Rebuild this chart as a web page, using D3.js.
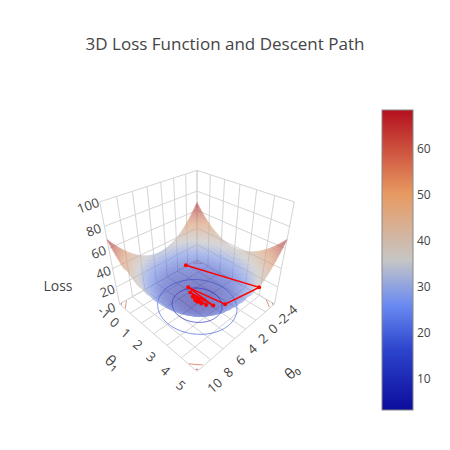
<!DOCTYPE html>
<html><head><meta charset="utf-8">
<script src="https://cdn.jsdelivr.net/npm/d3@7"></script>
<style>body{margin:0;background:#fff}text{font-family:"Open Sans",sans-serif;fill:#444}</style>
</head><body><svg id="c" width="450" height="450"></svg>
<script>
// ---- data ----
const theta0Ticks = [-4,-2,0,2,4,6,8,10];
const theta1Ticks = [-1,0,1,2,3,4,5];
const zTicks = [0,20,40,60,80,100];
const cbTicks = [10,20,30,40,50,60];
const lossMin = 3.3, lossCenter = [3,2], lossCurv = [35,30];
const contourLevels = [10,20,58,65];
const pathT0 = [0.7,0.4,2.0,2.3,2.5,2.6,2.8,2.85,2.95,3.0,3.0,3.0];
const pathT1 = [0.1,5.0,3.6,1.0,3.0,1.3,2.6,1.6,2.3,1.85,2.05,2.0];
const colorStops = [[0,'#0c0c9c'],[0.2,'#2c44cc'],[0.35,'#6a8af2'],[0.5,'#c6c6c6'],[0.72,'#e89a62'],[1,'#b4101e']];
const cmin = 3.3, cmax = 68.5;

function loss(a,b){return lossMin + lossCurv[0]*((a-lossCenter[0])/7)**2 + lossCurv[1]*((b-lossCenter[1])/3)**2;}

const svg = d3.select('#c');
const X = d3.scaleLinear().domain([-4,10]).range([-0.5,0.5]);
const Y = d3.scaleLinear().domain([-1,5]).range([-0.5,0.5]);
const Z = d3.scaleLinear().domain([0,100]).range([-0.5,0.5]);
const col = d3.scaleLinear().domain(colorStops.map(d=>cmin+d[0]*(cmax-cmin))).range(colorStops.map(d=>d[1])).clamp(true);
const surfCol = z=>d3.interpolateRgb(col(z),'#9a9aa6')(0.2);

const E=[1.45,1.45,1.4];
const norm=v=>{const l=Math.hypot(...v);return v.map(x=>x/l)};
const cross=(a,b)=>[a[1]*b[2]-a[2]*b[1],a[2]*b[0]-a[0]*b[2],a[0]*b[1]-a[1]*b[0]];
const dot=(a,b)=>a[0]*b[0]+a[1]*b[1]+a[2]*b[2];
const f=norm(E.map(x=>-x)), r=norm(cross(f,[0,0,1])), u=cross(r,f);
function raw(p){const d=[p[0]-E[0],p[1]-E[1],p[2]-E[2]];const dp=dot(d,f);return [dot(d,r)/dp,dot(d,u)/dp,dp];}
const L0=raw([0.5,-0.5,-0.5]), R0=raw([-0.5,0.5,-0.5]);
const s=155/(R0[0]-L0[0]);
const cx=197-s*(L0[0]+R0[0])/2, cy=304+s*(L0[1]+R0[1])/2;
function P(a,b,z){const q=raw([X(a),Y(b),Z(z)]);return [cx+s*q[0],cy-s*q[1],q[2]];}
const line=d3.line();

svg.append('text').attr('x',225).attr('y',50).attr('text-anchor','middle').style('font-size','17px').text('3D Loss Function and Descent Path');

const g=svg.append('g').attr('stroke','#d4d4d4').attr('fill','none').attr('stroke-width',1);
theta0Ticks.forEach(t=>{g.append('path').attr('d',line([P(t,-1,0),P(t,5,0)]));g.append('path').attr('d',line([P(t,-1,0),P(t,-1,100)]));});
theta1Ticks.forEach(t=>{g.append('path').attr('d',line([P(-4,t,0),P(10,t,0)]));g.append('path').attr('d',line([P(-4,t,0),P(-4,t,100)]));});
zTicks.forEach(z=>{g.append('path').attr('d',line([P(10,-1,z),P(-4,-1,z),P(-4,5,z)]));});

contourLevels.forEach(Lv=>{
  const a=Math.sqrt((Lv-lossMin)/lossCurv[0]), b=Math.sqrt((Lv-lossMin)/lossCurv[1]);
  let seg=[];const segs=[];
  for(let i=0;i<=240;i++){const t=i/240*2*Math.PI;const uu=a*Math.cos(t),vv=b*Math.sin(t);
    if(Math.abs(uu)<=1&&Math.abs(vv)<=1){const p=P(lossCenter[0]+7*uu,lossCenter[1]+3*vv,0);seg.push([p[0],p[1]]);}
    else{if(seg.length>1)segs.push(seg);seg=[];}}
  if(seg.length>1)segs.push(seg);
  segs.forEach(sg=>svg.append('path').attr('d',line(sg)).attr('fill','none').attr('stroke',col(Lv)).attr('stroke-opacity',0.7).attr('stroke-width',1));
});

const N=42, quads=[];
const ga=d3.range(N+1).map(i=>-4+14*i/N), gb=d3.range(N+1).map(j=>-1+6*j/N);
for(let i=0;i<N;i++)for(let j=0;j<N;j++){
  const cs=[[ga[i],gb[j]],[ga[i+1],gb[j]],[ga[i+1],gb[j+1]],[ga[i],gb[j+1]]];
  const zs=cs.map(c=>loss(c[0],c[1]));
  const zc=d3.mean(zs), ac=(ga[i]+ga[i+1])/2, bc=(gb[j]+gb[j+1])/2;
  if(X(ac)+Y(bc)+Z(zc)>0.16)continue;
  const pts=cs.map((c,k)=>P(c[0],c[1],zs[k]));
  quads.push({pts:pts.map(p=>[p[0],p[1]]),d:d3.mean(pts,p=>p[2]),z:zc});
}
quads.sort((a,b)=>b.d-a.d);
const sg=svg.append('g').attr('opacity',0.62);
quads.forEach(q=>{const c=surfCol(q.z);sg.append('path').attr('d',line(q.pts)+'Z').attr('fill',c).attr('stroke',c).attr('stroke-width',0.6);});

const pp=pathT0.map((a,i)=>P(a,pathT1[i],loss(a,pathT1[i])));
svg.append('path').attr('d',line(pp.map(p=>[p[0],p[1]]))).attr('fill','none').attr('stroke','#ff0000').attr('stroke-width',1.5);
svg.selectAll('circle.m').data(pp).join('circle').attr('cx',d=>d[0]).attr('cy',d=>d[1]).attr('r',2).attr('fill','#ff0000');

function ang(p,q){let a=Math.atan2(q[1]-p[1],q[0]-p[0])*180/Math.PI;if(a>90)a-=180;if(a<-90)a+=180;return a;}
const a1=ang(P(10,-1,0),P(10,5,0)), a0=ang(P(10,5,0),P(-4,5,0));
theta1Ticks.forEach(t=>{const p=P(12.2,t,0);svg.append('text').attr('transform',`translate(${p[0]},${p[1]}) rotate(${a1})`).attr('text-anchor','middle').attr('dy','0.35em').style('font-size','13px').text(t);});
theta0Ticks.forEach(t=>{const p=P(t,6.2,0);svg.append('text').attr('transform',`translate(${p[0]-3},${p[1]-4}) rotate(${a0})`).attr('text-anchor','middle').attr('dy','0.35em').style('font-size','13px').text(t);});
zTicks.forEach(z=>{const p=P(11.2,-1.4,z);svg.append('text').attr('transform',`translate(${p[0]+4},${p[1]+3}) rotate(-20)`).attr('text-anchor','middle').attr('dy','0.35em').style('font-size','13px').text(z);});
{const p=P(16,2,0);svg.append('text').attr('transform',`translate(${p[0]+5},${p[1]-3}) rotate(${a1})`).attr('text-anchor','middle').attr('dy','0.35em').style('font-size','15px').text('θ₁');}
svg.append('text').attr('transform',`translate(292,372) rotate(${a0})`).attr('text-anchor','middle').attr('dy','0.35em').style('font-size','15px').text('θ₀');
svg.append('text').attr('x',58).attr('y',291).attr('text-anchor','middle').style('font-size','14px').text('Loss');

const defs=svg.append('defs');const lg=defs.append('linearGradient').attr('id','cb').attr('x1',0).attr('y1',1).attr('x2',0).attr('y2',0);
colorStops.forEach(d=>lg.append('stop').attr('offset',d[0]).attr('stop-color',d[1]));
const cby=d3.scaleLinear().domain([cmin,cmax]).range([410,110]);
svg.append('rect').attr('x',382).attr('y',110).attr('width',31).attr('height',300).attr('fill','url(#cb)').attr('stroke','#888').attr('stroke-width',1);
cbTicks.forEach(t=>svg.append('text').attr('x',417).attr('y',cby(t)).attr('dy','0.35em').style('font-size','12px').text(t));
</script></body></html>
